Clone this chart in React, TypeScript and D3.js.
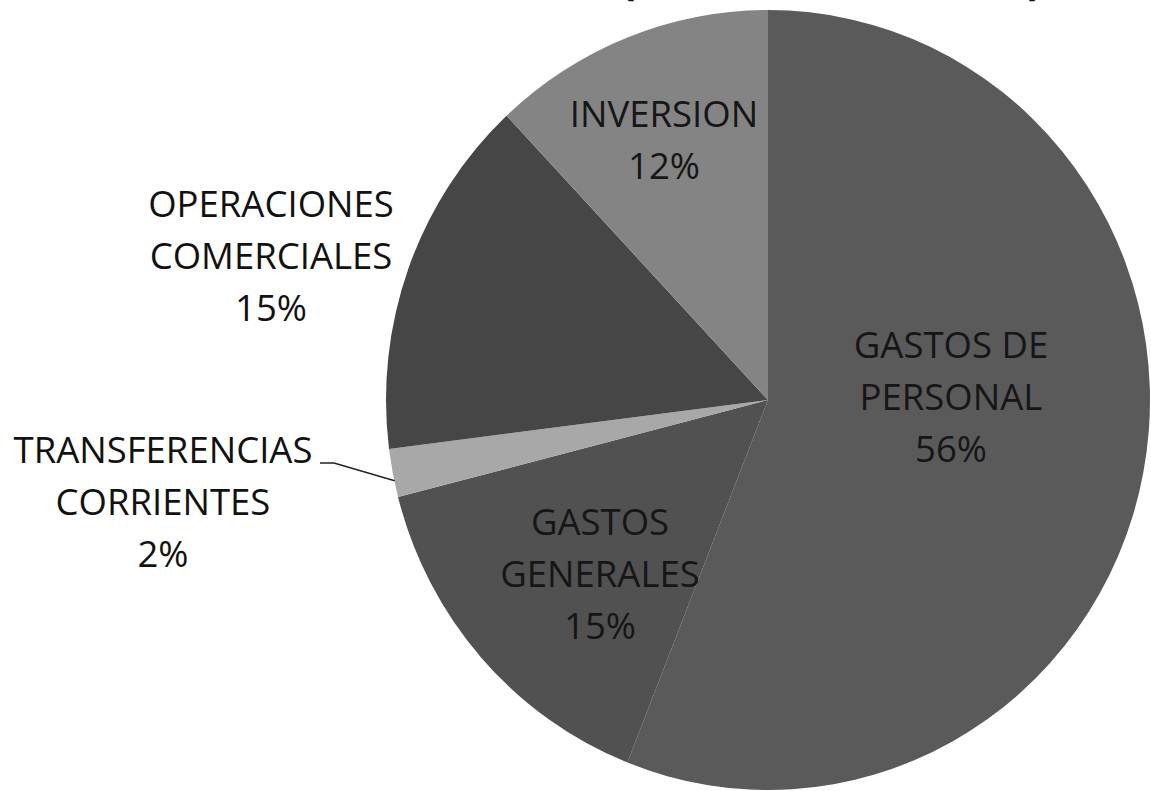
import React from "react";
import * as d3 from "d3";

// ---- data ----
const categories = [
  "GASTOS DE PERSONAL",
  "GASTOS GENERALES",
  "TRANSFERENCIAS CORRIENTES",
  "OPERACIONES COMERCIALES",
  "INVERSION",
];
const values = [56, 15, 2, 15, 12];
const labelLines = [
  ["GASTOS DE", "PERSONAL", "56%"],
  ["GASTOS", "GENERALES", "15%"],
  ["TRANSFERENCIAS", "CORRIENTES", "2%"],
  ["OPERACIONES", "COMERCIALES", "15%"],
  ["INVERSION", "12%"],
];
// visible bottoms of the cropped title's punctuation
const titleMarks = ["(", ",", ")"];

// ---- layout / style ----
const W = 1151;
const H = 791;
const CX = 768;
const CY = 400;
const RX = 382;
const RY = 390;
const colors = ["#5a5a5a", "#515151", "#a8a8a8", "#464646", "#848484"];
// label block anchors (x centre, first baseline)
const labelAnchors = [
  { x: 951, y: 358, dark: true },
  { x: 600, y: 535, dark: true },
  { x: 163, y: 463, dark: false },
  { x: 271, y: 217, dark: false },
  { x: 664, y: 127, dark: true },
];
const titleX = [628, 852, 1035];
const LINE_H = 52;
const FONT = "'Open Sans', 'Liberation Sans', sans-serif";

export default function App() {
  const pie = d3.pie<number>().sort(null).value((d) => d)(values);
  const arc = d3.arc<d3.PieArcDatum<number>>().innerRadius(0).outerRadius(RY);
  const sx = RX / RY;

  // leader line for the small slice
  const t = pie[2];
  const mid = (t.startAngle + t.endAngle) / 2;
  const ex = CX + Math.sin(mid) * RX * 0.995;
  const ey = CY - Math.cos(mid) * RY * 0.995 + 8;
  const leader = d3.line()([
    [320, 463],
    [334, 463],
    [ex, ey],
  ]);

  return (
    <svg
      width={W}
      height={H}
      style={{ position: "absolute", left: 0, top: 0, background: "#fff" }}
    >
      <g transform={`translate(${CX},${CY}) scale(${sx},1)`}>
        {pie.map((p, i) => (
          <path key={categories[i]} d={arc(p) || ""} fill={colors[i]} />
        ))}
      </g>
      <path d={leader || ""} fill="none" stroke="#222" strokeWidth={1.5} />
      {labelLines.map((lines, i) => (
        <text
          key={categories[i]}
          textAnchor="middle"
          fontFamily={FONT}
          fontSize={36.5}
          fill={labelAnchors[i].dark ? "#161616" : "#111"}
        >
          {lines.map((l, j) => (
            <tspan key={j} x={labelAnchors[i].x} y={labelAnchors[i].y + j * LINE_H}>
              {l}
            </tspan>
          ))}
        </text>
      ))}
      {titleMarks.map((m, i) => (
        <text
          key={i}
          x={titleX[i]}
          y={-6}
          textAnchor="middle"
          fontFamily={FONT}
          fontWeight="bold"
          fontSize={44}
          fill="#111"
        >
          {m}
        </text>
      ))}
    </svg>
  );
}
